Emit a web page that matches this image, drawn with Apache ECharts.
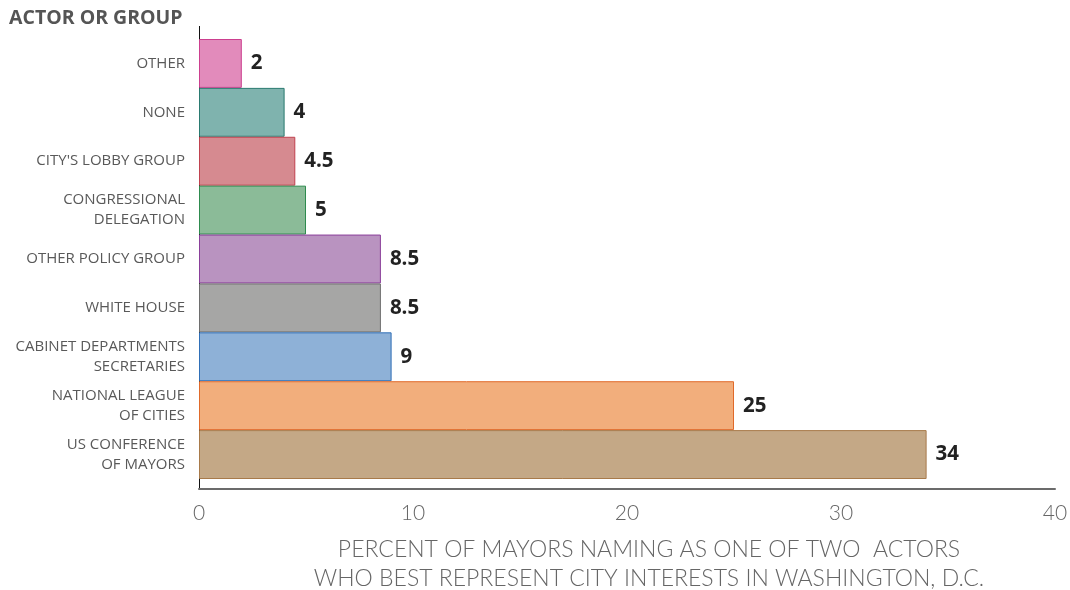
<!DOCTYPE html>
<html>
<head>
<meta charset="utf-8">
<script src="https://cdn.jsdelivr.net/npm/echarts@6/dist/echarts.min.js"></script>
<style>
  html, body { margin: 0; padding: 0; background: #fff; }
  #chart { width: 1070px; height: 590px; }
</style>
</head>
<body>
<div id="chart"></div>
<script>
// categories, top to bottom
var actors = [
  'OTHER',
  'NONE',
  "CITY'S LOBBY GROUP",
  'CONGRESSIONAL\nDELEGATION',
  'OTHER POLICY GROUP',
  'WHITE HOUSE',
  'CABINET DEPARTMENTS\nSECRETARIES',
  'NATIONAL LEAGUE\nOF CITIES',
  'US CONFERENCE\nOF MAYORS'
];
var percents = [2, 4, 4.5, 5, 8.5, 8.5, 9, 25, 34];
var xTicks = [0, 10, 20, 30, 40];

var fills = ['#e28bbb', '#7fb3ae', '#d68a90', '#8bbb98', '#b993c0', '#a6a6a5', '#8eb1d7', '#f2ae7c', '#c4a886'];
var strokes = ['#cc3f8f', '#2a7a70', '#c0424f', '#2e8b4e', '#8a3f9a', '#6e6e6e', '#2f6fb7', '#e06a2a', '#a87a4a'];

var chart = echarts.init(document.getElementById('chart'));

var option = {
  animation: false,
  textStyle: { fontFamily: '"Open Sans", Lato, sans-serif' },
  title: {
    text: 'ACTOR OR GROUP',
    left: 9,
    top: 8,
    padding: 0,
    textStyle: { fontSize: 19.5, fontWeight: 'bold', color: '#555', fontFamily: '"Open Sans", Lato, sans-serif' }
  },
  grid: { left: 199, right: 15, top: 39, bottom: 111, outerBoundsMode: 'none' },
  xAxis: {
    type: 'value',
    min: xTicks[0],
    max: xTicks[xTicks.length - 1],
    interval: 10,
    offset: 10,
    axisLine: { show: true, lineStyle: { color: '#6b6b6b', width: 2 } },
    axisTick: { show: false },
    splitLine: { show: false },
    axisLabel: { fontSize: 21, color: '#666', fontWeight: 300, margin: 14, fontFamily: 'Lato, sans-serif' },
    name: 'PERCENT OF MAYORS NAMING AS ONE OF TWO  ACTORS\nWHO BEST REPRESENT CITY INTERESTS IN WASHINGTON, D.C.',
    nameLocation: 'middle',
    nameGap: 46,
    nameTextStyle: { fontSize: 23, color: '#666', fontWeight: 300, lineHeight: 29, padding: [0, 0, 0, 44], fontFamily: 'Lato, sans-serif' }
  },
  yAxis: {
    type: 'category',
    data: actors,
    inverse: true,
    axisLine: { show: false },
    axisTick: { show: false },
    axisLabel: { fontSize: 15, color: '#595959', margin: 14, lineHeight: 20, align: 'right', padding: [5, 0, 0, 0] }
  },
  graphic: [{
    type: 'line',
    shape: { x1: 199.5, y1: 26, x2: 199.5, y2: 490 },
    style: { stroke: '#111', lineWidth: 1 }
  }],
  series: [{
    type: 'bar',
    barCategoryGap: 0,
    data: percents.map(function (v, i) {
      return { value: v, itemStyle: { color: fills[i], borderColor: strokes[i], borderWidth: 1 } };
    }),
    label: {
      show: true,
      position: 'right',
      distance: 9,
      fontSize: 20.5,
      fontWeight: 'bold',
      color: '#222'
    }
  }]
};
chart.setOption(option);
</script>
</body>
</html>
